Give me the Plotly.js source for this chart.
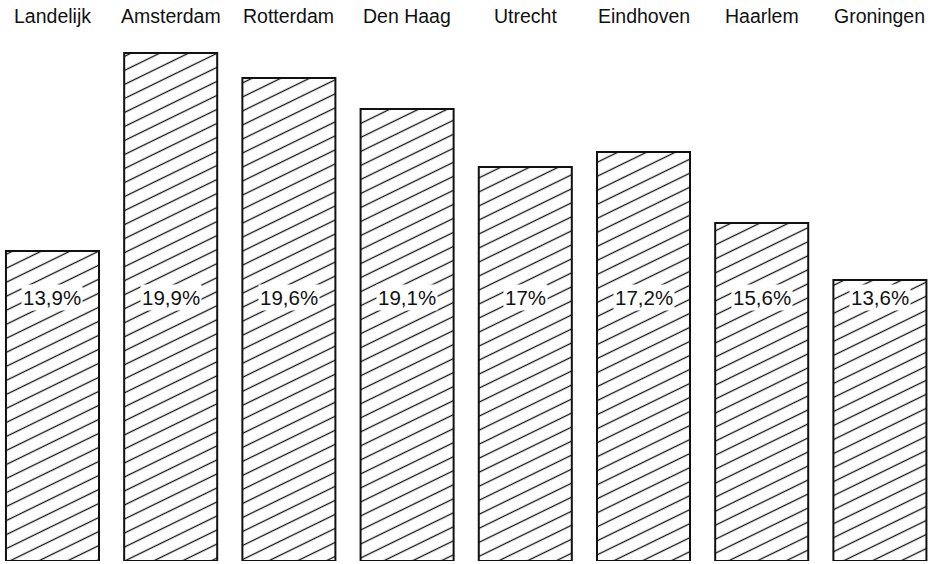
<!DOCTYPE html>
<html>
<head>
<meta charset="utf-8">
<script src="https://cdn.plot.ly/plotly-3.0.1.min.js"></script>
<style>
  html, body { margin: 0; padding: 0; background: #fff; }
  #chart { width: 937px; height: 564px; }
</style>
</head>
<body>
<div id="chart"></div>
<script>
// Categories (cities)
const categories = ["Landelijk", "Amsterdam", "Rotterdam", "Den Haag", "Utrecht", "Eindhoven", "Haarlem", "Groningen"];
// Bar lengths as drawn in the picture (relative units)
const barHeights = [310, 508, 483, 452, 394, 409, 338, 281];
// Percentage labels printed in the bars
const valueLabels = ["13,9%", "19,9%", "19,6%", "19,1%", "17%", "17,2%", "15,6%", "13,6%"];

const FONT = "Liberation Sans, Arial, Helvetica, sans-serif";

const data = [{
  type: "bar",
  x: categories,
  y: barHeights,
  marker: {
    color: "white",
    line: { color: "#111", width: 2 },
    pattern: { shape: "/", size: 10, solidity: 0.12, fgcolor: "#111", bgcolor: "white" }
  },
  hoverinfo: "none"
}];

const annotations = [];
categories.forEach((c, i) => {
  annotations.push({
    x: c, xref: "x", y: 1.046, yref: "paper",
    text: c, showarrow: false, xanchor: "center", yanchor: "middle",
    font: { family: FONT, size: 19.5, color: "#111" }
  });
  annotations.push({
    x: c, xref: "x", y: 264, yref: "y",
    text: valueLabels[i], showarrow: false, xanchor: "center", yanchor: "middle",
    bgcolor: "white", borderpad: 1,
    font: { family: FONT, size: 20.5, color: "#111" }
  });
});

const layout = {
  width: 937, height: 564,
  margin: { l: 0, r: 0, t: 40, b: 3 },
  paper_bgcolor: "white", plot_bgcolor: "white",
  showlegend: false,
  bargap: 0.213,
  xaxis: { type: "category", range: [-0.444, 7.483], showticklabels: false, showgrid: false, zeroline: false, showline: false, ticks: "" },
  yaxis: { range: [0, 521], showticklabels: false, showgrid: false, zeroline: false, showline: false, ticks: "" },
  annotations: annotations,
  font: { family: FONT }
};

Plotly.newPlot("chart", data, layout, { staticPlot: true, displayModeBar: false }).then(gd => {
  const svgNS = "http://www.w3.org/2000/svg";
  gd.querySelectorAll("pattern").forEach(p => {
    const W = 20, H = 12.6;
    p.setAttribute("width", W);
    p.setAttribute("height", H);
    p.setAttribute("patternUnits", "userSpaceOnUse");
    p.setAttribute("patternTransform", "rotate(-26)");
    while (p.firstChild) p.removeChild(p.firstChild);
    const r = document.createElementNS(svgNS, "rect");
    r.setAttribute("width", W); r.setAttribute("height", H); r.setAttribute("fill", "white");
    p.appendChild(r);
    const l = document.createElementNS(svgNS, "line");
    l.setAttribute("x1", -1); l.setAttribute("x2", W + 1);
    l.setAttribute("y1", H / 2); l.setAttribute("y2", H / 2);
    l.setAttribute("stroke", "#111"); l.setAttribute("stroke-width", 1.3);
    p.appendChild(l);
  });
});
</script>
</body>
</html>
